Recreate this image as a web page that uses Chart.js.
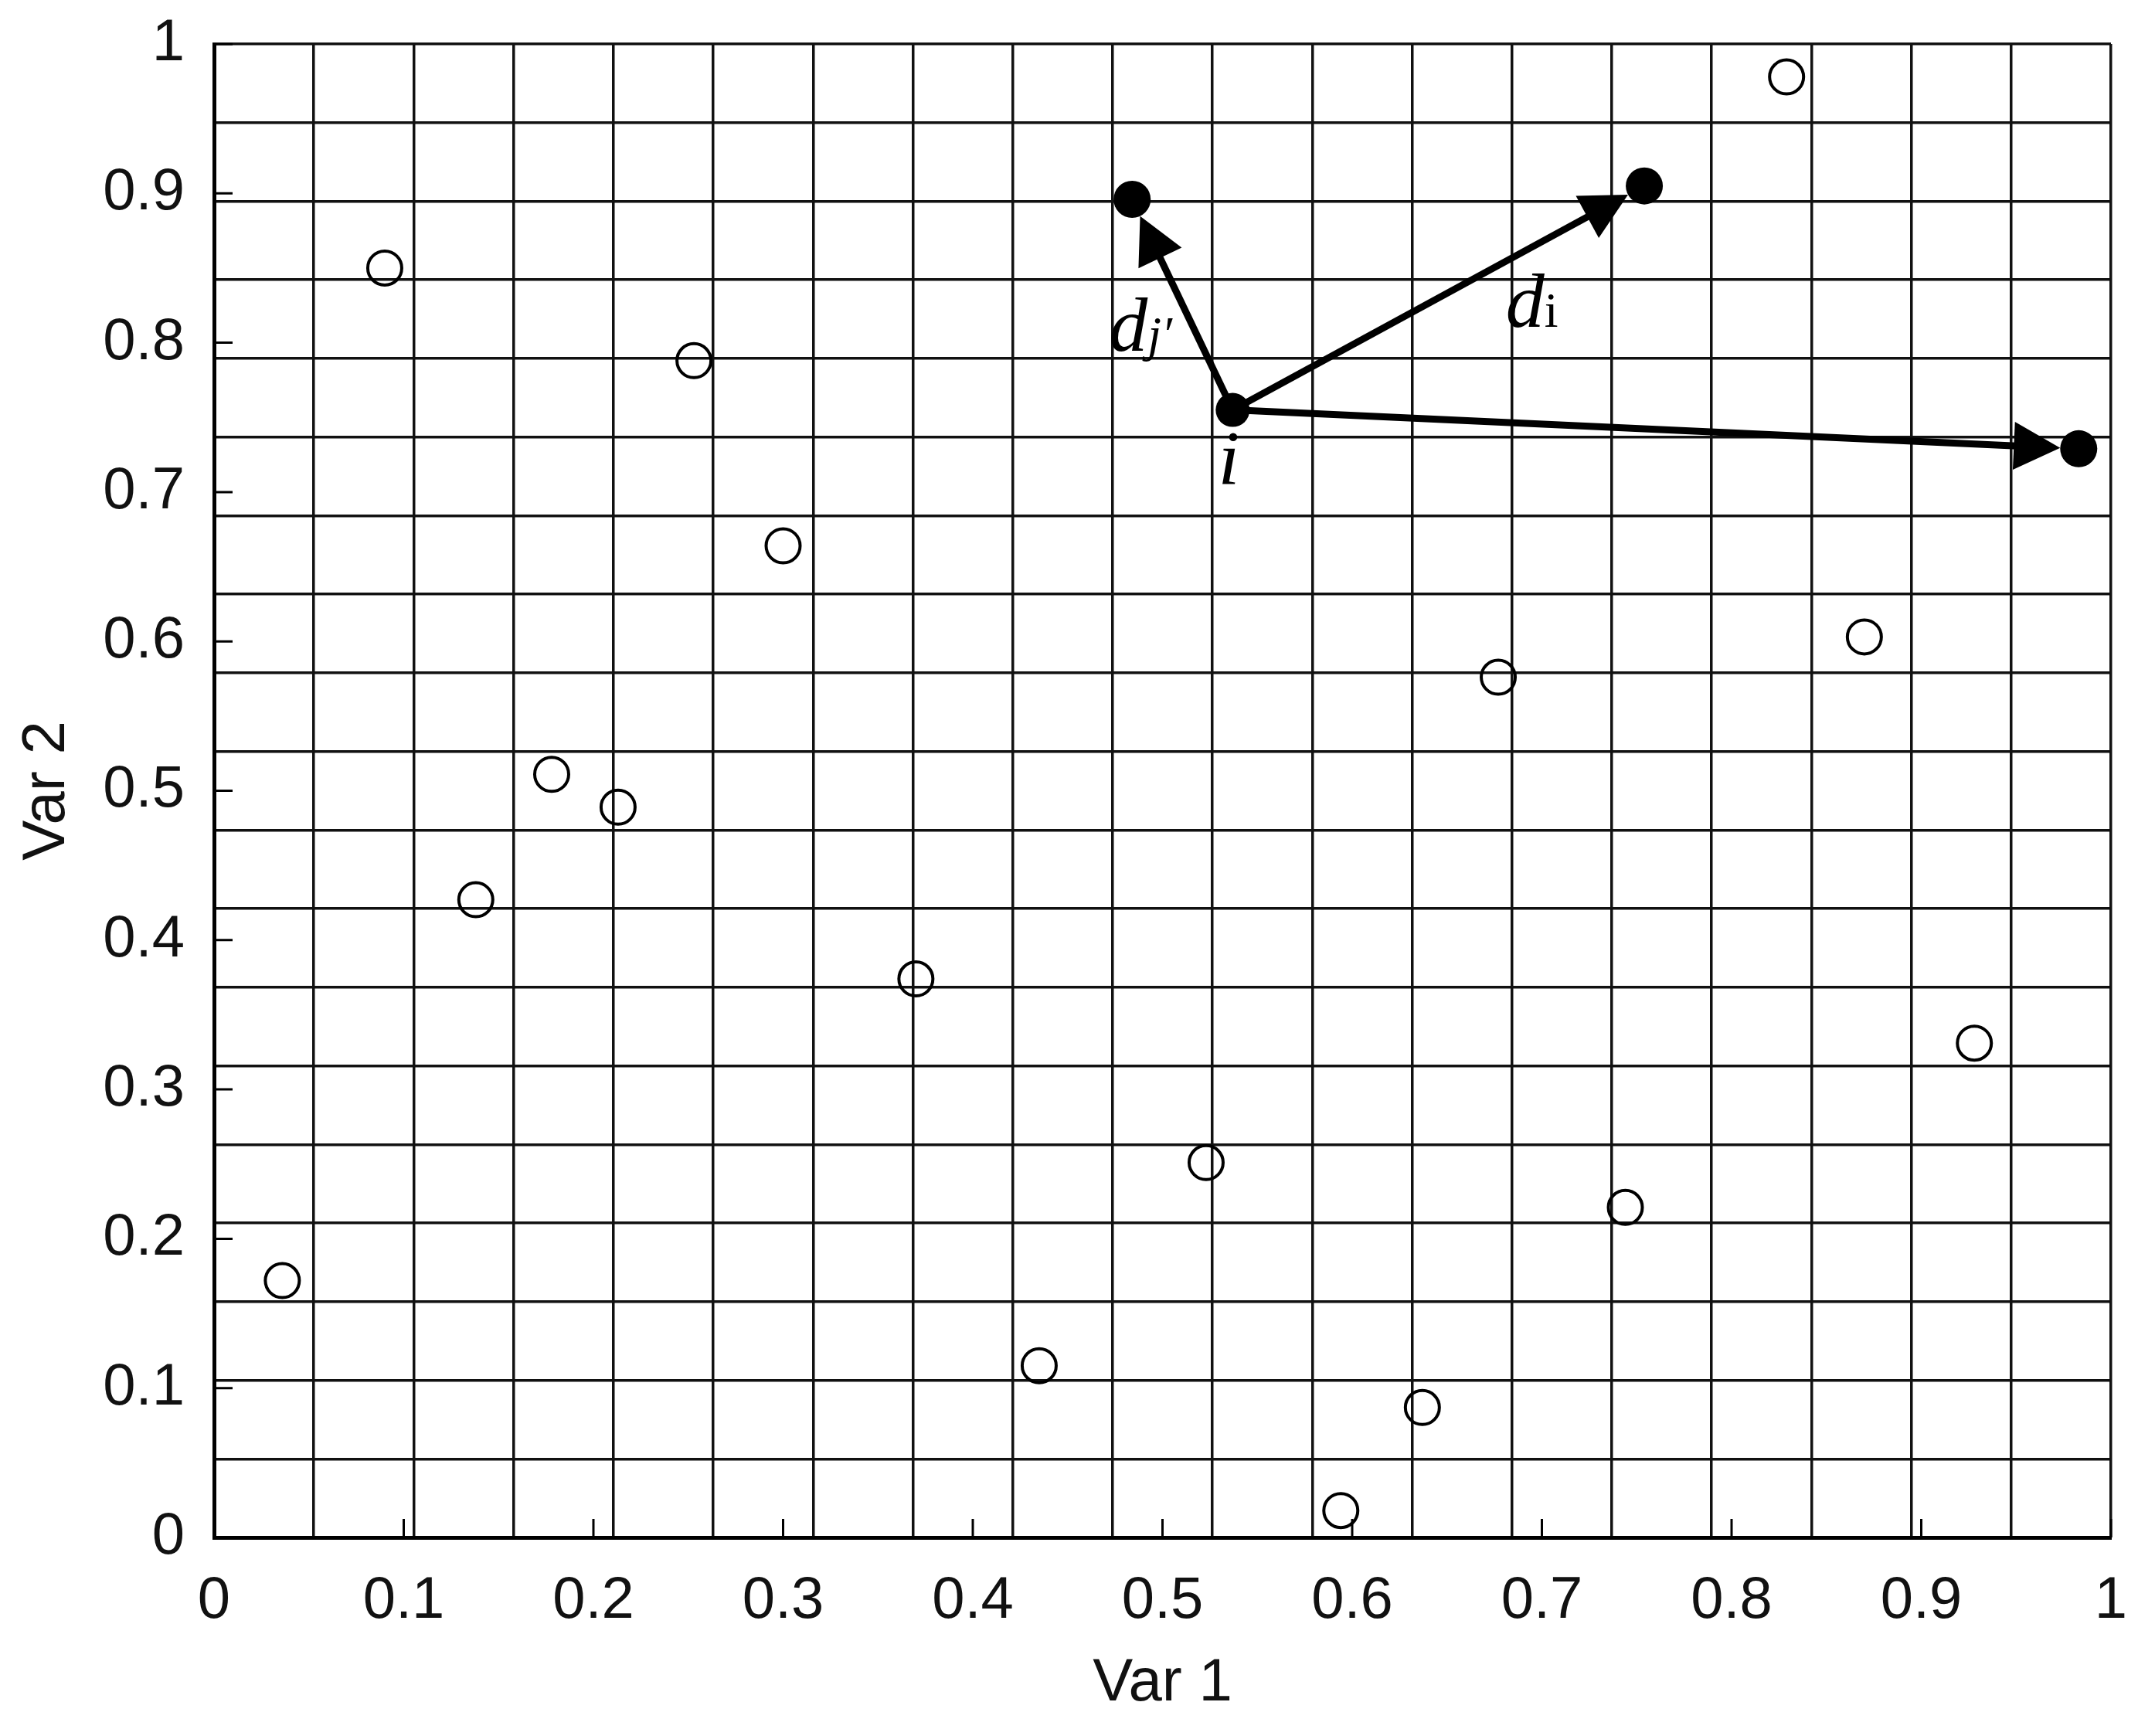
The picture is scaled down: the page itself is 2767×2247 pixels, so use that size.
<!DOCTYPE html>
<html>
<head>
<meta charset="utf-8">
<title>Var 1 / Var 2 sample distances</title>
<script src="https://cdn.jsdelivr.net/npm/chart.js@4.4.0/dist/chart.umd.min.js"></script>
<style>
  html, body { margin: 0; padding: 0; background: #fff; }
</style>
</head>
<body>
<canvas id="chart" width="2767" height="2247"></canvas>
<script>
// open circles: the rest of the sample
const sampleX = [0.036, 0.090, 0.138, 0.178, 0.213, 0.253, 0.300, 0.370, 0.435, 0.523, 0.594, 0.637, 0.677, 0.744, 0.829, 0.870, 0.928];
const sampleY = [0.172, 0.850, 0.427, 0.511, 0.489, 0.788, 0.664, 0.374, 0.115, 0.251, 0.018, 0.087, 0.576, 0.221, 0.978, 0.603, 0.331];

// filled points: point i and the three points it is measured against
const centreX = [0.537];
const centreY = [0.755];
const neighbourX = [0.484, 0.754, 0.983];
const neighbourY = [0.896, 0.905, 0.729];

// labels
const tickLabels = ["0", "0.1", "0.2", "0.3", "0.4", "0.5", "0.6", "0.7", "0.8", "0.9", "1"];
const xTitle = "Var 1";
const yTitle = "Var 2";
const centreLabel = "i";
const arrowLabels = [
  { main: "d", sub: "j\u2032", italicSub: true },
  { main: "d", sub: "i", italicSub: false },
  null,
];

// the grid is split into 19 cells each way
const gridBins = 19;

const toPoints = (xs, ys) => xs.map((x, k) => ({ x, y: ys[k] }));

const gridTicks = (scale) => {
  scale.ticks = Array.from({ length: gridBins + 1 }, (_, k) => ({ value: k / gridBins }));
};

// small tick marks pointing into the plot, matlab style
const innerTicks = {
  id: "innerTicks",
  afterDraw(chart) {
    const { ctx, chartArea, scales: { x, y } } = chart;
    ctx.save();
    ctx.strokeStyle = "#000";
    ctx.lineWidth = 3;
    ctx.beginPath();
    x.ticks.forEach((t) => {
      const px = x.getPixelForValue(t.value);
      ctx.moveTo(px, chartArea.bottom);
      ctx.lineTo(px, chartArea.bottom - 24);
    });
    y.ticks.forEach((t) => {
      const py = y.getPixelForValue(t.value);
      ctx.moveTo(chartArea.left, py);
      ctx.lineTo(chartArea.left + 24, py);
    });
    ctx.stroke();
    ctx.restore();
  },
};

// arrows from i to each neighbour, head stops at the dot edge
const arrows = {
  id: "arrows",
  afterDatasetsDraw(chart) {
    const { ctx, scales: { x, y } } = chart;
    const x0 = x.getPixelForValue(centreX[0]);
    const y0 = y.getPixelForValue(centreY[0]);
    const headLen = 60;
    const headHalf = 31;

    ctx.save();
    ctx.strokeStyle = "#000";
    ctx.fillStyle = "#000";
    ctx.lineWidth = 9;

    neighbourX.forEach((nx, k) => {
      const x1 = x.getPixelForValue(nx);
      const y1 = y.getPixelForValue(neighbourY[k]);
      const ang = Math.atan2(y1 - y0, x1 - x0);
      const cos = Math.cos(ang);
      const sin = Math.sin(ang);
      const len = Math.hypot(x1 - x0, y1 - y0) - 24;
      const tx = x0 + cos * len;
      const ty = y0 + sin * len;
      const bx = tx - cos * headLen;
      const by = ty - sin * headLen;

      ctx.beginPath();
      ctx.moveTo(x0, y0);
      ctx.lineTo(bx + cos * 4, by + sin * 4);
      ctx.stroke();

      ctx.beginPath();
      ctx.moveTo(tx, ty);
      ctx.lineTo(bx - sin * headHalf, by + cos * headHalf);
      ctx.lineTo(bx + sin * headHalf, by - cos * headHalf);
      ctx.closePath();
      ctx.fill();
    });
    ctx.restore();
  },
};

const annotations = {
  id: "annotations",
  afterDraw(chart) {
    const { ctx, scales: { x, y } } = chart;
    const x0 = x.getPixelForValue(centreX[0]);
    const y0 = y.getPixelForValue(centreY[0]);
    const offsets = [
      { dx: -95, dy: 60 },
      { dx: 87, dy: 37 },
    ];

    ctx.save();
    ctx.fillStyle = "#000";
    ctx.textBaseline = "alphabetic";

    ctx.font = "italic 100px 'Liberation Serif'";
    ctx.textAlign = "center";
    ctx.fillText(centreLabel, x0 - 5, y0 + 95);

    ctx.textAlign = "left";
    arrowLabels.forEach((lab, k) => {
      if (!lab) return;
      const mx = (x0 + x.getPixelForValue(neighbourX[k])) / 2 + offsets[k].dx;
      const my = (y0 + y.getPixelForValue(neighbourY[k])) / 2 + offsets[k].dy;
      ctx.font = "italic 100px 'Liberation Serif'";
      ctx.fillText(lab.main, mx, my);
      const w = ctx.measureText(lab.main).width;
      ctx.font = (lab.italicSub ? "italic " : "") + "64px 'Liberation Serif'";
      ctx.fillText(lab.sub, mx + w, my);
    });
    ctx.restore();
  },
};

const tickFont = { family: "'Liberation Sans', Arial, sans-serif", size: 76 };
const titleFont = { family: "'Liberation Sans', Arial, sans-serif", size: 78 };

new Chart(document.getElementById("chart"), {
  type: "scatter",
  data: {
    datasets: [
      {
        label: "sample",
        data: toPoints(sampleX, sampleY),
        pointStyle: "circle",
        pointRadius: 22,
        pointBorderWidth: 4,
        pointBorderColor: "#000",
        pointBackgroundColor: "rgba(0,0,0,0)",
        clip: false,
      },
      {
        label: "neighbours",
        data: toPoints(neighbourX, neighbourY),
        pointRadius: 24,
        pointBorderWidth: 0,
        pointBackgroundColor: "#000",
        clip: false,
      },
      {
        label: "i",
        data: toPoints(centreX, centreY),
        pointRadius: 22,
        pointBorderWidth: 0,
        pointBackgroundColor: "#000",
        clip: false,
      },
    ],
  },
  options: {
    responsive: false,
    animation: false,
    layout: { padding: { top: 57, right: 35, left: 0, bottom: 0 } },
    plugins: {
      legend: { display: false },
      tooltip: { enabled: false },
    },
    scales: {
      x: {
        type: "linear",
        position: "bottom",
        min: 0,
        max: 1,
        afterFit: (scale) => {
          scale.height = 257;
          scale.paddingLeft = 0;
          scale.paddingRight = 0;
        },
        ticks: {
          stepSize: 0.1,
          color: "#111",
          font: tickFont,
          padding: 37,
          maxRotation: 0,
          callback: (value, index) => tickLabels[index],
        },
        grid: { display: true, drawOnChartArea: false, drawTicks: false },
        border: { display: true, color: "#000", width: 5 },
        title: {
          display: true,
          text: xTitle,
          color: "#111",
          font: titleFont,
          padding: { top: 0, bottom: 21 },
        },
      },
      y: {
        type: "linear",
        position: "left",
        min: 0,
        max: 1,
        afterFit: (scale) => {
          scale.width = 277;
          scale.paddingTop = 0;
          scale.paddingBottom = 0;
        },
        ticks: {
          stepSize: 0.1,
          color: "#111",
          font: tickFont,
          padding: 38,
          callback: (value, index) => tickLabels[index],
        },
        grid: { display: true, drawOnChartArea: false, drawTicks: false },
        border: { display: true, color: "#000", width: 5 },
        title: {
          display: true,
          text: yTitle,
          color: "#111",
          font: titleFont,
          padding: { top: 15, bottom: 0 },
        },
      },
      xg: {
        type: "linear",
        position: "bottom",
        min: 0,
        max: 1,
        afterBuildTicks: gridTicks,
        afterFit: (scale) => {
          scale.height = 0;
          scale.paddingLeft = 0;
          scale.paddingRight = 0;
        },
        ticks: { display: false },
        grid: { color: "#111", lineWidth: 3.5, drawTicks: false },
        border: { display: false },
      },
      yg: {
        type: "linear",
        position: "left",
        min: 0,
        max: 1,
        afterBuildTicks: gridTicks,
        afterFit: (scale) => {
          scale.width = 0;
          scale.paddingTop = 0;
          scale.paddingBottom = 0;
        },
        ticks: { display: false },
        grid: { color: "#111", lineWidth: 3.5, drawTicks: false },
        border: { display: false },
      },
    },
  },
  plugins: [innerTicks, arrows, annotations],
});
</script>
</body>
</html>
